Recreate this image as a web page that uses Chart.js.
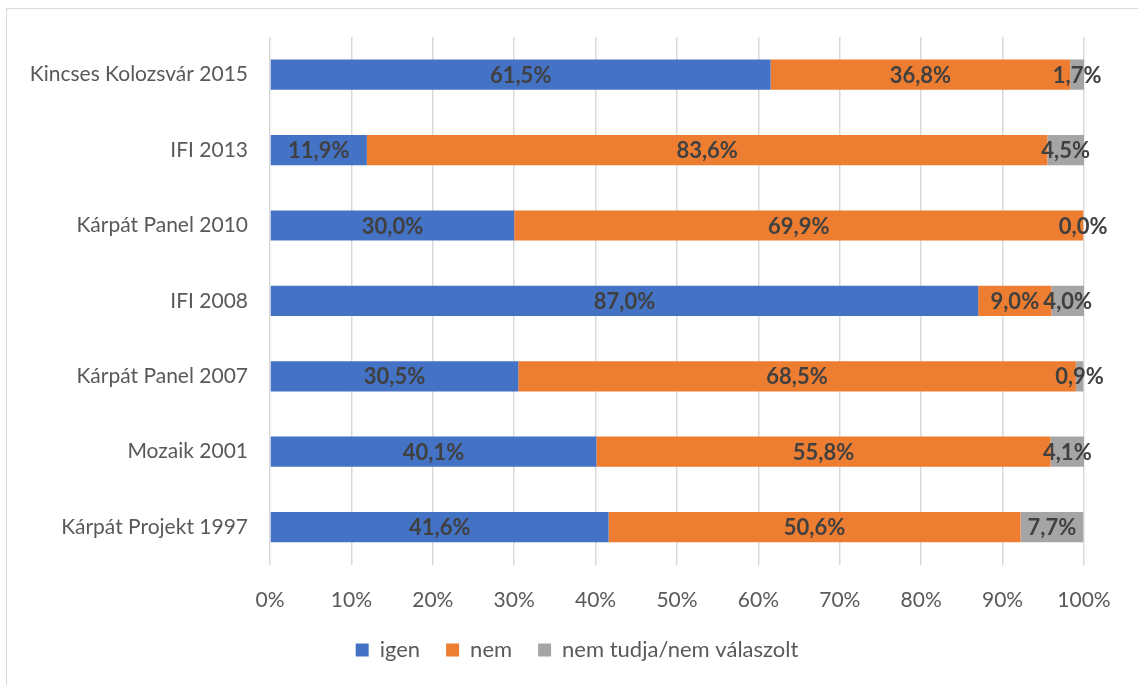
<!DOCTYPE html>
<html lang="hu">
<head>
  <meta charset="UTF-8" />
  <title>Igen / nem válaszok</title>
  <script src="https://cdn.jsdelivr.net/npm/chart.js"></script>
  <style>
    body { margin: 0; background: #fff; }
    #wrap { width: 1138px; height: 685px; }
  </style>
</head>
<body>

<div id="wrap">
  <canvas id="survey"></canvas>
</div>

<script>
  const categories = [
    'Kincses Kolozsvár 2015',
    'IFI 2013',
    'Kárpát Panel 2010',
    'IFI 2008',
    'Kárpát Panel 2007',
    'Mozaik 2001',
    'Kárpát Projekt 1997'
  ];
  const igen = [61.5, 11.9, 30.0, 87.0, 30.5, 40.1, 41.6];
  const nem = [36.8, 83.6, 69.9, 9.0, 68.5, 55.8, 50.6];
  const nemTudja = [1.7, 4.5, 0.0, 4.0, 0.9, 4.1, 7.7];
  const xTicks = [0, 10, 20, 30, 40, 50, 60, 70, 80, 90, 100];

  const fontName = 'Lato, "Open Sans", sans-serif';
  const fmt = v => v.toFixed(1).replace('.', ',') + '%';

  // white background + thin frame (only top/left edge falls inside the canvas)
  const frame = {
    id: 'frame',
    beforeDraw(chart) {
      const c = chart.ctx;
      c.save();
      c.fillStyle = '#fff';
      c.fillRect(0, 0, chart.width, chart.height);
      c.strokeStyle = '#d9d9d9';
      c.lineWidth = 1;
      c.strokeRect(6.5, 8.5, chart.width, chart.height);
      c.restore();
    }
  };

  // nudge the legend a bit to the right
  const legendShift = {
    id: 'legendShift',
    afterLayout(chart) {
      if (chart.legend) {
        chart.legend.left += 35;
        chart.legend.right += 35;
      }
    }
  };

  // value labels in the middle of every segment
  const segLabels = {
    id: 'segLabels',
    afterDatasetsDraw(chart) {
      const c = chart.ctx;
      c.save();
      c.font = 'bold 22px ' + fontName;
      c.fillStyle = '#404040';
      c.textAlign = 'center';
      c.textBaseline = 'middle';
      chart.data.datasets.forEach((ds, i) => {
        chart.getDatasetMeta(i).data.forEach((bar, j) => {
          const x = (bar.x + bar.base) / 2;
          c.fillText(fmt(ds.data[j]), x, bar.y + 1);
        });
      });
      c.restore();
    }
  };

  const ctx = document.getElementById('survey').getContext('2d');

  new Chart(ctx, {
    type: 'bar',
    data: {
      labels: categories,
      datasets: [
        { label: 'igen', data: igen, backgroundColor: '#4472c4' },
        { label: 'nem', data: nem, backgroundColor: '#ed7d31' },
        { label: 'nem tudja/nem válaszolt', data: nemTudja, backgroundColor: '#a5a5a5' }
      ]
    },
    options: {
      indexAxis: 'y',
      responsive: true,
      maintainAspectRatio: false,
      animation: false,
      categoryPercentage: 0.4,
      barPercentage: 1,
      layout: { padding: { left: 0, right: 54, top: 37, bottom: 14 } },
      scales: {
        x: {
          stacked: true,
          min: 0,
          max: 100,
          afterBuildTicks: s => { s.ticks = xTicks.map(v => ({ value: v })); },
          // labels hang below the plot; let the legend sit closer
          afterFit: s => { s.height -= 23; },
          ticks: {
            callback: v => v + '%',
            color: '#595959',
            font: { family: fontName, size: 21 },
            padding: 23
          },
          grid: { color: '#d9d9d9', lineWidth: 1.5, drawTicks: false },
          border: { display: false }
        },
        y: {
          stacked: true,
          afterFit: s => { s.width = 270; },
          ticks: {
            color: '#595959',
            font: { family: fontName, size: 21 },
            padding: 14
          },
          grid: { display: false },
          border: { display: false }
        }
      },
      plugins: {
        legend: {
          position: 'bottom',
          labels: {
            boxWidth: 13,
            boxHeight: 13,
            padding: 26,
            color: '#595959',
            font: { family: fontName, size: 22 }
          }
        },
        tooltip: { enabled: false }
      }
    },
    plugins: [frame, legendShift, segLabels]
  });
</script>

</body>
</html>
